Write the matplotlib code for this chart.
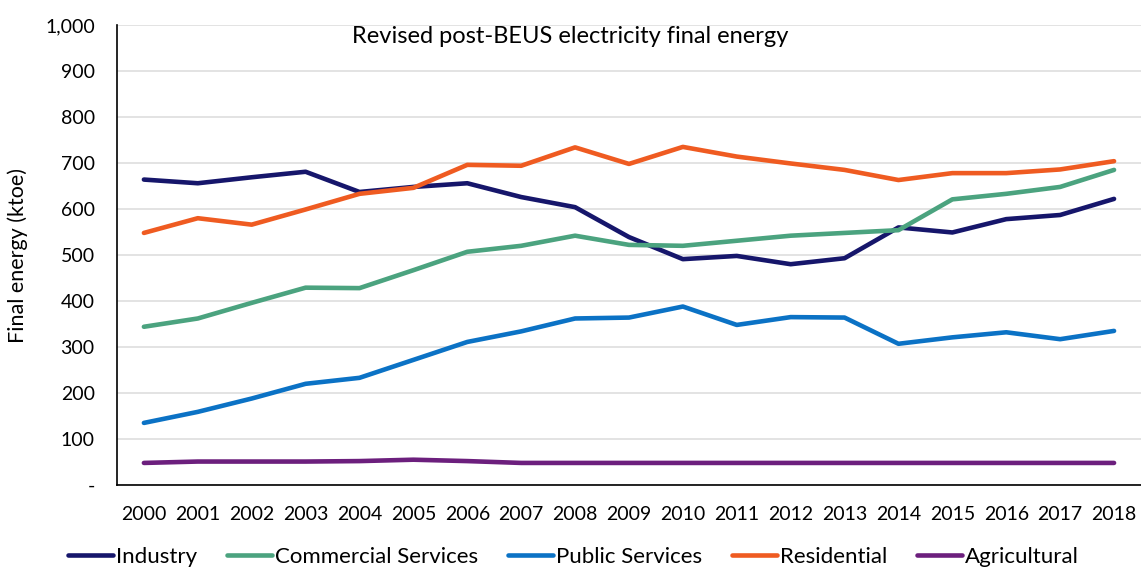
import numpy as np
import matplotlib.pyplot as plt
from matplotlib.ticker import FuncFormatter

plt.rcParams['font.family'] = ['Lato', 'DejaVu Sans']

years = [str(y) for y in range(2000, 2019)]
industry = [664, 656, 669, 681, 637, 648, 656, 626, 604, 539, 491, 498, 480, 493, 560, 549, 578, 587, 622]
commercial = [344, 362, 396, 429, 428, 467, 507, 520, 542, 522, 520, 531, 542, 548, 554, 621, 633, 648, 685]
public = [135, 159, 188, 220, 233, 272, 311, 334, 362, 364, 388, 348, 365, 364, 307, 321, 332, 317, 335]
residential = [548, 580, 566, 599, 633, 646, 696, 694, 734, 698, 735, 714, 699, 685, 663, 678, 678, 686, 704]
agricultural = [48, 51, 51, 51, 52, 55, 52, 48, 48, 48, 48, 48, 48, 48, 48, 48, 48, 48, 48]

series = [
    ('Industry', industry, '#16166b'),
    ('Commercial Services', commercial, '#4ba37f'),
    ('Public Services', public, '#0b72c5'),
    ('Residential', residential, '#ef5b21'),
    ('Agricultural', agricultural, '#6c1f7d'),
]

fig = plt.figure(figsize=(11.41, 5.71), dpi=100)
ax = fig.add_axes([0.1025, 0.1506, 0.8975, 0.8056])

x = np.arange(len(years))
for name, vals, col in series:
    ax.plot(x, vals, color=col, lw=3.3, label=name, solid_capstyle='round', solid_joinstyle='round')

ax.set_xlim(-0.5, len(years) - 0.5)
ax.set_ylim(0, 1000)
ax.set_yticks(np.arange(0, 1001, 100))
ax.yaxis.set_major_formatter(FuncFormatter(lambda v, p: '-' if v == 0 else '{:,.0f}'.format(v)))
ax.set_xticks(x)
ax.set_xticklabels(years)
ax.tick_params(axis='both', length=0, labelsize=14)
ax.tick_params(axis='y', pad=16)
ax.tick_params(axis='x', pad=15)
ax.grid(axis='y', color='#e0e0e0', lw=1.3)
ax.set_axisbelow(True)
for s in ['top', 'right']:
    ax.spines[s].set_visible(False)
ax.spines['left'].set_linewidth(1.2)
ax.spines['bottom'].set_linewidth(1.2)

ax.set_ylabel('Final energy (ktoe)', fontsize=15.5, labelpad=12)
ax.text(0.443, 0.997, 'Revised post-BEUS electricity final energy', transform=ax.transAxes,
        ha='center', va='top', fontsize=17)

ax.legend(loc='upper center', bbox_to_anchor=(0.446, -0.091), ncol=5, frameon=False,
          fontsize=16, handlelength=2.0, handletextpad=0.15, columnspacing=1.35)

fig.savefig('out.png', dpi=100)
